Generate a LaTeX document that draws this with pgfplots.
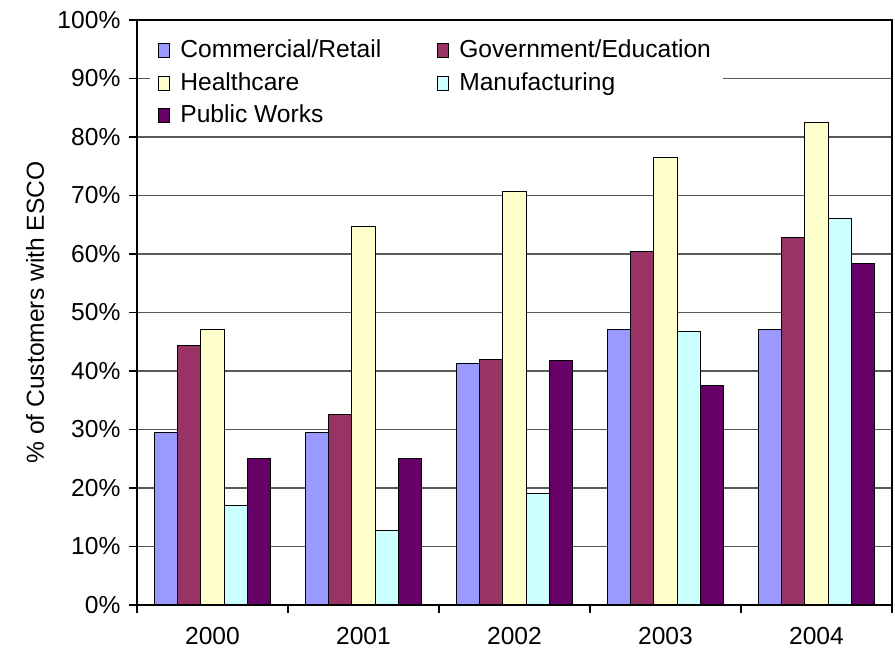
\documentclass[border=0pt]{standalone}
\usepackage{pgfplots}
\pgfplotsset{compat=1.18}
\usepackage{fontspec}
\setmainfont{Liberation Sans}
\definecolor{cA}{HTML}{9999FF}
\definecolor{cB}{HTML}{993366}
\definecolor{cC}{HTML}{FFFFCC}
\definecolor{cD}{HTML}{CCFFFF}
\definecolor{cE}{HTML}{660066}
\begin{document}
\fontsize{12.3}{14.8}\selectfont
\begin{tikzpicture}
\useasboundingbox (-68.5pt,-25.5pt) rectangle (379pt,302.5pt);
\begin{axis}[
  at={(0pt,0pt)}, anchor=south west, scale only axis,
  width=377.5pt, height=292.5pt,
  xmin=-0.5, xmax=4.5, ymin=0, ymax=100,
  ybar, bar width=0.154,
  xtick={0,1,2,3,4}, xticklabels={2000,2001,2002,2003,2004},
  minor xtick={-0.5,0.5,1.5,2.5,3.5,4.5},
  major x tick style={draw=none},
  ytick={0,10,...,100},
  yticklabels={0\%,10\%,20\%,30\%,40\%,50\%,60\%,70\%,80\%,90\%,100\%},
  tick align=outside, major tick length=4pt, minor tick length=4pt,
  tick style={black, line width=0.6pt},
  xtick pos=bottom, ytick pos=left,
  ymajorgrids, grid style={black!65, line width=0.7pt},
  axis line style={black, line width=0.6pt},
  tick label style={font=\fontsize{12.3}{14.8}\selectfont},
  xticklabel style={yshift=-3pt},
  ylabel={\% of Customers with ESCO},
  ylabel style={font=\fontsize{12.3}{14.8}\selectfont, at={(axis description cs:-0.1351,0.5)}, anchor=center},
  every axis plot/.append style={draw=black, line width=0.5pt},
  legend columns=2,
  legend cell align=left,
  legend style={at={(axis description cs:0.0172,0.984)}, anchor=north west, draw=none, fill=white,
    font=\fontsize{12.3}{14.8}\selectfont,
    /tikz/every even column/.append style={column sep=26pt},
    row sep=1.5pt,
    inner xsep=4pt, inner ysep=3pt},
  legend image code/.code={\draw[#1] (0pt,-3.5pt) rectangle (5.5pt,3.5pt); \path (8.5pt,0pt);},
]
\addplot[fill=cA, bar shift=-0.308] coordinates {(0,29.4) (1,29.4) (2,41.2) (3,47.1) (4,47.1)};
\addplot[fill=cB, bar shift=-0.154] coordinates {(0,44.3) (1,32.5) (2,41.9) (3,60.5) (4,62.8)};
\addplot[fill=cC, bar shift=0] coordinates {(0,47.1) (1,64.7) (2,70.6) (3,76.5) (4,82.4)};
\addplot[fill=cD, bar shift=0.154] coordinates {(0,17.0) (1,12.8) (2,19.1) (3,46.8) (4,66.0)};
\addplot[fill=cE, bar shift=0.308] coordinates {(0,25.0) (1,25.0) (2,41.8) (3,37.5) (4,58.3)};
\legend{Commercial/Retail, Government/Education, Healthcare, Manufacturing, Public Works}
\end{axis}
\end{tikzpicture}
\end{document}
